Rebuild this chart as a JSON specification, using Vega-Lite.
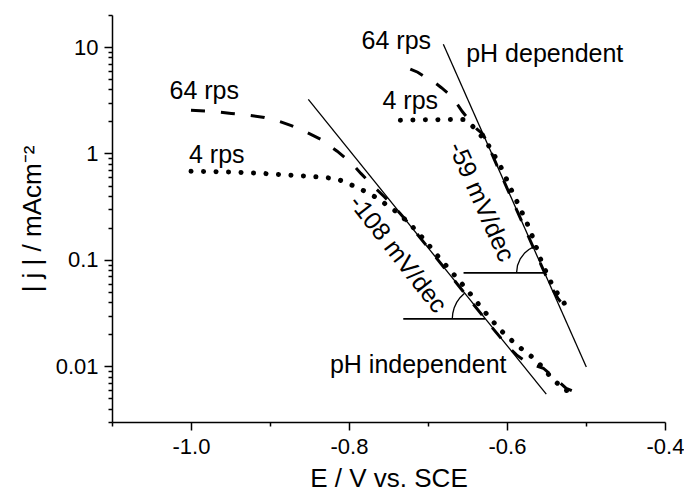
{
  "$schema": "https://vega.github.io/schema/vega-lite/v6.json",
  "width": 553,
  "height": 407,
  "autosize": {"type": "none"},
  "padding": {"left": 112, "top": 15, "right": 19, "bottom": 73},
  "background": "white",
  "config": {"view": {"stroke": null}, "font": "Liberation Sans"},
  "resolve": {"axis": {"x": "independent", "y": "independent"}},
  "datasets": {
    "curves": [
      {"s": "p4L", "E": -1.0, "j": 0.68},
      {"s": "p4L", "E": -0.97, "j": 0.675},
      {"s": "p4L", "E": -0.94, "j": 0.665},
      {"s": "p4L", "E": -0.91, "j": 0.65},
      {"s": "p4L", "E": -0.88, "j": 0.63},
      {"s": "p4L", "E": -0.85, "j": 0.61},
      {"s": "p4L", "E": -0.83, "j": 0.595},
      {"s": "p4L", "E": -0.815, "j": 0.575},
      {"s": "p4L", "E": -0.805, "j": 0.54},
      {"s": "p4L", "E": -0.79, "j": 0.48},
      {"s": "p4L", "E": -0.777, "j": 0.43},
      {"s": "p4L", "E": -0.764, "j": 0.38},
      {"s": "p4L", "E": -0.7515, "j": 0.325},
      {"s": "p4L", "E": -0.739, "j": 0.28},
      {"s": "p4L", "E": -0.724, "j": 0.222},
      {"s": "p4L", "E": -0.711, "j": 0.175},
      {"s": "p4L", "E": -0.698, "j": 0.135},
      {"s": "p4L", "E": -0.685, "j": 0.103},
      {"s": "p4L", "E": -0.672, "j": 0.08},
      {"s": "p4L", "E": -0.659, "j": 0.062},
      {"s": "p4L", "E": -0.646, "j": 0.0475},
      {"s": "p4L", "E": -0.633, "j": 0.036},
      {"s": "p4L", "E": -0.62, "j": 0.0275},
      {"s": "p4L", "E": -0.607, "j": 0.0215},
      {"s": "p4L", "E": -0.594, "j": 0.0175},
      {"s": "p4L", "E": -0.581, "j": 0.0145},
      {"s": "p4L", "E": -0.568, "j": 0.0122},
      {"s": "p4L", "E": -0.556, "j": 0.01},
      {"s": "p4L", "E": -0.545, "j": 0.008},
      {"s": "p4L", "E": -0.535, "j": 0.0068},
      {"s": "p4L", "E": -0.527, "j": 0.0059},
      {"s": "p4L", "E": -0.52, "j": 0.006},
      {"s": "d64L", "E": -1.0, "j": 2.55},
      {"s": "d64L", "E": -0.97, "j": 2.48},
      {"s": "d64L", "E": -0.949, "j": 2.38},
      {"s": "d64L", "E": -0.927, "j": 2.29},
      {"s": "d64L", "E": -0.907, "j": 2.18},
      {"s": "d64L", "E": -0.89, "j": 2.02},
      {"s": "d64L", "E": -0.873, "j": 1.83},
      {"s": "d64L", "E": -0.855, "j": 1.6},
      {"s": "d64L", "E": -0.835, "j": 1.35},
      {"s": "d64L", "E": -0.815, "j": 1.05},
      {"s": "d64L", "E": -0.796, "j": 0.8},
      {"s": "d64L", "E": -0.785, "j": 0.65},
      {"s": "d64L", "E": -0.775, "j": 0.545},
      {"s": "d64L", "E": -0.765, "j": 0.46},
      {"s": "d64L", "E": -0.755, "j": 0.39},
      {"s": "d64L", "E": -0.745, "j": 0.328},
      {"s": "d64L", "E": -0.735, "j": 0.272},
      {"s": "d64L", "E": -0.725, "j": 0.2226},
      {"s": "d64L", "E": -0.7, "j": 0.1306},
      {"s": "d64L", "E": -0.675, "j": 0.0767},
      {"s": "d64L", "E": -0.65, "j": 0.045},
      {"s": "d64L", "E": -0.62, "j": 0.0237},
      {"s": "d64L", "E": -0.6, "j": 0.0157},
      {"s": "d64L", "E": -0.588, "j": 0.0128},
      {"s": "d64L", "E": -0.573, "j": 0.0107},
      {"s": "d64L", "E": -0.554, "j": 0.0096},
      {"s": "d64L", "E": -0.54, "j": 0.0078},
      {"s": "d64L", "E": -0.525, "j": 0.0062},
      {"s": "d64L", "E": -0.518, "j": 0.0059},
      {"s": "p4R", "E": -0.735, "j": 2.05},
      {"s": "p4R", "E": -0.71, "j": 2.07},
      {"s": "p4R", "E": -0.685, "j": 2.08},
      {"s": "p4R", "E": -0.665, "j": 2.09},
      {"s": "p4R", "E": -0.655, "j": 2.09},
      {"s": "p4R", "E": -0.648, "j": 1.95},
      {"s": "p4R", "E": -0.641, "j": 1.72},
      {"s": "p4R", "E": -0.634, "j": 1.5},
      {"s": "p4R", "E": -0.627, "j": 1.3},
      {"s": "p4R", "E": -0.621, "j": 1.12},
      {"s": "p4R", "E": -0.615, "j": 0.93},
      {"s": "p4R", "E": -0.609, "j": 0.78},
      {"s": "p4R", "E": -0.603, "j": 0.63},
      {"s": "p4R", "E": -0.597, "j": 0.5},
      {"s": "p4R", "E": -0.591, "j": 0.4},
      {"s": "p4R", "E": -0.585, "j": 0.325},
      {"s": "p4R", "E": -0.579, "j": 0.26},
      {"s": "p4R", "E": -0.572, "j": 0.2},
      {"s": "p4R", "E": -0.5655, "j": 0.15},
      {"s": "p4R", "E": -0.559, "j": 0.108},
      {"s": "p4R", "E": -0.553, "j": 0.085},
      {"s": "p4R", "E": -0.5465, "j": 0.066},
      {"s": "p4R", "E": -0.539, "j": 0.052},
      {"s": "p4R", "E": -0.53, "j": 0.042},
      {"s": "p4R", "E": -0.521, "j": 0.0325},
      {"s": "d64R", "E": -0.7224, "j": 6.2},
      {"s": "d64R", "E": -0.713, "j": 5.8},
      {"s": "d64R", "E": -0.705, "j": 5.3},
      {"s": "d64R", "E": -0.694, "j": 4.8},
      {"s": "d64R", "E": -0.683, "j": 4.15},
      {"s": "d64R", "E": -0.675, "j": 3.7},
      {"s": "d64R", "E": -0.667, "j": 3.2},
      {"s": "d64R", "E": -0.6566, "j": 2.48},
      {"s": "d64R", "E": -0.6465, "j": 2.0},
      {"s": "d64R", "E": -0.6376, "j": 1.68},
      {"s": "d64R", "E": -0.63, "j": 1.51},
      {"s": "d64R", "E": -0.62, "j": 1.023},
      {"s": "d64R", "E": -0.6, "j": 0.473},
      {"s": "d64R", "E": -0.58, "j": 0.2187},
      {"s": "d64R", "E": -0.56, "j": 0.1012},
      {"s": "d64R", "E": -0.545, "j": 0.057},
      {"s": "d64R", "E": -0.535, "j": 0.043},
      {"s": "d64R", "E": -0.528, "j": 0.037},
      {"s": "d64R", "E": -0.52, "j": 0.033},
      {"s": "tafelA", "E": -0.8515, "j": 3.22},
      {"s": "tafelA", "E": -0.5503, "j": 0.00548},
      {"s": "tafelB", "E": -0.6806, "j": 10.6},
      {"s": "tafelB", "E": -0.4996, "j": 0.00985},
      {"s": "arc1", "E": -0.6693, "j": 0.02786},
      {"s": "arc1", "E": -0.6686, "j": 0.03155},
      {"s": "arc1", "E": -0.6668, "j": 0.03558},
      {"s": "arc1", "E": -0.6637, "j": 0.03985},
      {"s": "arc1", "E": -0.6595, "j": 0.04413},
      {"s": "arc1", "E": -0.6538, "j": 0.04858},
      {"s": "arc2", "E": -0.5879, "j": 0.07568},
      {"s": "arc2", "E": -0.5867, "j": 0.08856},
      {"s": "arc2", "E": -0.5832, "j": 0.1025},
      {"s": "arc2", "E": -0.5776, "j": 0.1163},
      {"s": "arc2", "E": -0.5723, "j": 0.1252},
      {"s": "arc2", "E": -0.5669, "j": 0.1318},
      {"s": "h1", "E": -0.7313, "j": 0.0279},
      {"s": "h1", "E": -0.6275, "j": 0.0279},
      {"s": "h2", "E": -0.655, "j": 0.0757},
      {"s": "h2", "E": -0.5525, "j": 0.0757}
    ],
    "notes": [
      {"t": "64 rps", "E": -0.9832, "j": 3.22},
      {"t": "4 rps", "E": -0.9674, "j": 0.821},
      {"t": "64 rps", "E": -0.7401, "j": 9.51},
      {"t": "pH dependent", "E": -0.5522, "j": 7.18},
      {"t": "4 rps", "E": -0.7224, "j": 2.59},
      {"t": "pH independent", "E": -0.7124, "j": 0.00865}
    ],
    "slopeA": [{"t": "-108 mV/dec", "E": -0.7382, "j": 0.1141}],
    "slopeB": [{"t": "-59 mV/dec", "E": -0.6325, "j": 0.3524}]
  },
  "encoding": {
    "x": {"field": "E", "type": "quantitative", "scale": {"domain": [-1.1, -0.4], "nice": false, "zero": false}, "axis": null},
    "y": {"field": "j", "type": "quantitative", "scale": {"type": "log", "domain": [0.003, 20], "nice": false}, "axis": null}
  },
  "layer": [
    {
      "data": {"name": "curves"},
      "transform": [{"filter": "indexof(['tafelA','tafelB','arc1','arc2'], datum.s) >= 0"}],
      "mark": {"type": "line", "color": "black", "strokeWidth": 1.3},
      "encoding": {
        "x": {
          "field": "E", "type": "quantitative",
          "scale": {"domain": [-1.1, -0.4], "nice": false, "zero": false},
          "axis": {
            "orient": "bottom",
            "title": "E / V vs. SCE",
            "titleFontSize": 26,
            "titleFontWeight": "normal",
            "titleColor": "black",
            "titlePadding": 8,
            "values": [-1.0, -0.8, -0.6, -0.4],
            "labelExpr": "'-' + format(abs(datum.value), '.1f')",
            "labelFontSize": 22,
            "labelColor": "black",
            "labelPadding": 6,
            "labelFlush": false,
            "labelOverlap": false,
            "domainColor": "black",
            "domainWidth": 1.5,
            "tickColor": "black",
            "tickWidth": 1.5,
            "tickSize": 8,
            "grid": false
          }
        },
        "y": {
          "field": "j", "type": "quantitative",
          "scale": {"type": "log", "domain": [0.003, 20], "nice": false},
          "axis": {
            "orient": "left",
            "title": "| j | / mAcm⁻²",
            "titleFontSize": 26,
            "titleFontWeight": "normal",
            "titleColor": "black",
            "titlePadding": 10,
            "values": [0.01, 0.1, 1, 10],
            "labelExpr": "datum.value == 10 ? '10' : datum.value == 1 ? '1' : datum.value == 0.1 ? '0.1' : '0.01'",
            "labelFontSize": 22,
            "labelColor": "black",
            "labelPadding": 6,
            "labelFlush": false,
            "labelOverlap": false,
            "domainColor": "black",
            "domainWidth": 1.5,
            "tickColor": "black",
            "tickWidth": 1.5,
            "tickSize": 8,
            "grid": false
          }
        },
        "detail": {"field": "s"}
      }
    },
    {
      "data": {"name": "curves"},
      "transform": [{"filter": "datum.s == 'h1' || datum.s == 'h2'"}],
      "mark": {"type": "line", "color": "black", "strokeWidth": 1.8},
      "encoding": {
        "x": {
          "field": "E", "type": "quantitative",
          "scale": {"domain": [-1.1, -0.4], "nice": false, "zero": false},
          "axis": {
            "orient": "bottom",
            "title": null,
            "values": [-1.1, -0.9, -0.7, -0.5],
            "labels": false,
            "domain": false,
            "tickColor": "black",
            "tickWidth": 1.5,
            "tickSize": 4,
            "grid": false
          }
        },
        "y": {
          "field": "j", "type": "quantitative",
          "scale": {"type": "log", "domain": [0.003, 20], "nice": false},
          "axis": {
            "orient": "left",
            "title": null,
            "values": [0.003, 0.004, 0.005, 0.006, 0.007, 0.008, 0.009, 0.02, 0.03, 0.04, 0.05, 0.06, 0.07, 0.08, 0.09, 0.2, 0.3, 0.4, 0.5, 0.6, 0.7, 0.8, 0.9, 2, 3, 4, 5, 6, 7, 8, 9, 20],
            "labels": false,
            "domain": false,
            "tickColor": "black",
            "tickWidth": 1.5,
            "tickSize": 4,
            "grid": false
          }
        },
        "detail": {"field": "s"}
      }
    },
    {
      "data": {"name": "curves"},
      "transform": [{"filter": "datum.s == 'd64L' || datum.s == 'd64R'"}],
      "mark": {"type": "line", "color": "black", "strokeWidth": 3, "strokeDash": [14, 16]},
      "encoding": {"detail": {"field": "s"}}
    },
    {
      "data": {"name": "curves"},
      "transform": [{"filter": "datum.s == 'p4L' || datum.s == 'p4R'"}],
      "mark": {"type": "line", "color": "black", "strokeWidth": 5, "strokeCap": "round", "strokeDash": [0.1, 12.4]},
      "encoding": {"detail": {"field": "s"}}
    },
    {
      "data": {"name": "notes"},
      "mark": {"type": "text", "fontSize": 25, "align": "center", "baseline": "alphabetic", "color": "black"},
      "encoding": {"text": {"field": "t"}}
    },
    {
      "data": {"name": "slopeA"},
      "mark": {"type": "text", "fontSize": 25, "align": "center", "baseline": "middle", "angle": 52, "color": "black"},
      "encoding": {"text": {"field": "t"}}
    },
    {
      "data": {"name": "slopeB"},
      "mark": {"type": "text", "fontSize": 25, "align": "center", "baseline": "middle", "angle": 66, "color": "black"},
      "encoding": {"text": {"field": "t"}}
    }
  ]
}
